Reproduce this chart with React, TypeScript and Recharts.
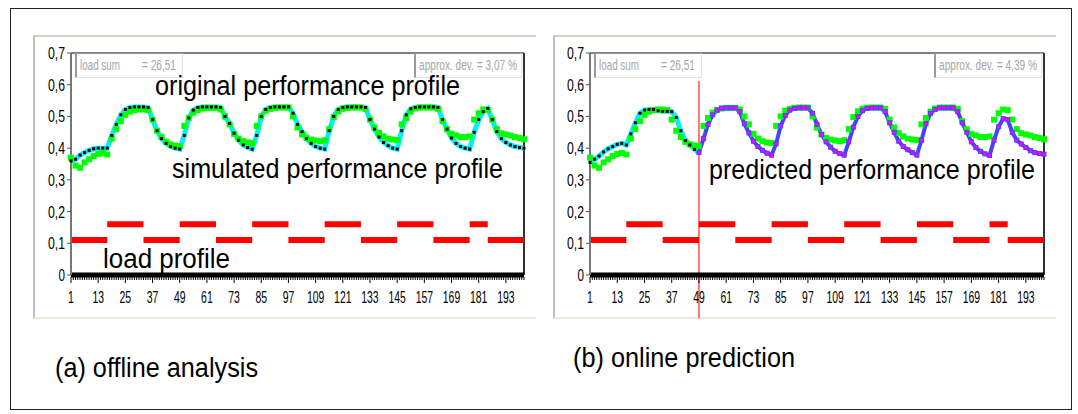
import { Line, LineChart, ReferenceLine, XAxis, YAxis } from "recharts";

// sample positions (every second measurement step)
const steps = Array.from({ length: 101 }, (_, i) => 1 + i * 2);

const xTickLabels = [1, 13, 25, 37, 49, 61, 73, 85, 97, 109, 121, 133, 145, 157, 169, 181, 193];
const yTickValues = [0, 0.1, 0.2, 0.3, 0.4, 0.5, 0.6, 0.7];

// original (measured) performance profile, green squares
const originalProfile = [
	0.37, 0.345, 0.338, 0.355, 0.365, 0.375, 0.382, 0.385, 0.38, 0.43,
	0.46, 0.485, 0.505, 0.515, 0.52, 0.522, 0.522, 0.52, 0.49, 0.455,
	0.435, 0.42, 0.412, 0.408, 0.406, 0.47, 0.495, 0.512, 0.52, 0.525,
	0.527, 0.527, 0.527, 0.522, 0.5, 0.475, 0.445, 0.43, 0.422, 0.418,
	0.416, 0.47, 0.5, 0.518, 0.524, 0.527, 0.528, 0.528, 0.528, 0.5,
	0.465, 0.443, 0.432, 0.427, 0.424, 0.422, 0.425, 0.46, 0.498, 0.516,
	0.524, 0.527, 0.528, 0.528, 0.528, 0.524, 0.49, 0.465, 0.448, 0.437,
	0.43, 0.427, 0.426, 0.475, 0.495, 0.515, 0.525, 0.528, 0.528, 0.528,
	0.528, 0.524, 0.485, 0.46, 0.445, 0.44, 0.435, 0.435, 0.437, 0.49,
	0.51, 0.522, 0.52, 0.49, 0.46, 0.447, 0.443, 0.44, 0.435, 0.432,
	0.428,
];

// simulated performance profile (offline analysis)
const simulatedProfile = [
	0.36, 0.365, 0.378, 0.386, 0.393, 0.398, 0.4, 0.4, 0.4, 0.44,
	0.475, 0.505, 0.522, 0.528, 0.53, 0.53, 0.53, 0.528, 0.49, 0.455,
	0.43, 0.415, 0.405, 0.4, 0.397, 0.44, 0.495, 0.52, 0.528, 0.53,
	0.53, 0.53, 0.53, 0.528, 0.5, 0.478, 0.447, 0.425, 0.41, 0.402,
	0.397, 0.44, 0.5, 0.522, 0.528, 0.53, 0.53, 0.53, 0.53, 0.51,
	0.475, 0.452, 0.43, 0.415, 0.405, 0.4, 0.397, 0.455, 0.5, 0.522,
	0.528, 0.53, 0.53, 0.53, 0.53, 0.528, 0.49, 0.46, 0.435, 0.418,
	0.408, 0.4, 0.397, 0.455, 0.505, 0.524, 0.528, 0.53, 0.53, 0.53,
	0.53, 0.528, 0.49, 0.46, 0.432, 0.415, 0.405, 0.4, 0.397, 0.45,
	0.49, 0.515, 0.525, 0.49, 0.452, 0.43, 0.418, 0.41, 0.405, 0.402,
	0.4,
];

// online prediction: simulated up to step 49, predicted from step 49
const onlineSimulated = [
	0.355, 0.365, 0.375, 0.388, 0.398, 0.405, 0.412, 0.415, 0.41, 0.445,
	0.48, 0.51, 0.52, 0.522, 0.522, 0.518, 0.516, 0.516, 0.515, 0.497,
	0.455, 0.424, 0.41, 0.396, 0.386,
];

const predictedProfile = [
	0.386, 0.43, 0.475, 0.505, 0.52, 0.526, 0.527, 0.527, 0.527, 0.515,
	0.477, 0.448, 0.422, 0.405, 0.393, 0.384, 0.378, 0.414, 0.47, 0.503,
	0.52, 0.525, 0.527, 0.527, 0.527, 0.51, 0.475, 0.443, 0.42, 0.403,
	0.39, 0.383, 0.378, 0.42, 0.466, 0.5, 0.518, 0.525, 0.527, 0.527,
	0.527, 0.515, 0.48, 0.45, 0.422, 0.405, 0.395, 0.386, 0.378, 0.424,
	0.477, 0.51, 0.522, 0.527, 0.527, 0.527, 0.527, 0.515, 0.48, 0.45,
	0.42, 0.402, 0.39, 0.382, 0.377, 0.425, 0.468, 0.493, 0.49, 0.45,
	0.425, 0.413, 0.402, 0.392, 0.386, 0.383, 0.381,
];
const PREDICTION_START = 49;

// load profile segments
const loadFrom = [1, 17, 33, 49, 65, 81, 97, 113, 129, 145, 161, 177, 185];
const loadTo = [17, 33, 49, 65, 81, 97, 113, 129, 145, 161, 177, 185, 201];
const loadLevel = [0.11, 0.16, 0.11, 0.16, 0.11, 0.16, 0.11, 0.16, 0.11, 0.16, 0.11, 0.16, 0.11];

function loadAt(step: number, high: boolean): number | null {
	for (let i = 0; i < loadFrom.length; i++) {
		const isHigh = loadLevel[i] > 0.13;
		if (isHigh === high && step >= loadFrom[i] && step <= loadTo[i]) {
			return loadLevel[i];
		}
	}
	return null;
}

const chartRows = steps.map((step, i) => ({
	step,
	original: originalProfile[i],
	simulated: simulatedProfile[i],
	onlineSim: i < onlineSimulated.length ? onlineSimulated[i] : null,
	predicted: step >= PREDICTION_START ? predictedProfile[i - (PREDICTION_START - 1) / 2] : null,
	loadLow: loadAt(step, false),
	loadHigh: loadAt(step, true),
}));

const allTicks = Array.from({ length: 201 }, (_, i) => i + 1);

const FONT = "'Liberation Sans', Arial, sans-serif";

// the original uses a condensed face, so squeeze glyphs to the measured widths
function XTick(props: any) {
	const { x, y, payload } = props;
	const value = payload.value as number;
	const major = xTickLabels.includes(value);
	const label = String(value);
	return (
		<g>
			<line x1={x} x2={x} y1={y + 2} y2={y + (major ? 8 : 5)} stroke="#000" strokeWidth={1} />
			{major && (
				<text
					x={x - (label.length * 5.8) / 2}
					y={y + 28}
					textLength={label.length * 5.8}
					lengthAdjust="spacingAndGlyphs"
					fontSize={16.5}
					fontFamily={FONT}
					fill="#000"
				>
					{label}
				</text>
			)}
		</g>
	);
}

function YTick(props: any) {
	const { x, y, payload } = props;
	const label = String(Math.round(payload.value * 10) / 10).replace(".", ",");
	const width = label.length === 1 ? 6.5 : 17;
	return (
		<text
			x={x - width}
			y={y + 6}
			textLength={width}
			lengthAdjust="spacingAndGlyphs"
			fontSize={16.5}
			fontFamily={FONT}
			fill="#000"
		>
			{label}
		</text>
	);
}

function squareDot(size: number, fill: string, stroke?: string) {
	return (props: any) => {
		const { cx, cy, index } = props;
		if (cx == null || cy == null) {
			return <g key={`d${index}`} />;
		}
		return (
			<rect
				key={`d${index}`}
				x={cx - size / 2}
				y={cy - size / 2}
				width={size}
				height={size}
				fill={fill}
				stroke={stroke ?? "none"}
				strokeWidth={stroke ? 1 : 0}
			/>
		);
	};
}

type InfoText = { text: string; at: number; len: number };

function InfoBox({ left, top, parts }: { left: number; top: number; parts: InfoText[] }) {
	return (
		<div
			style={{
				position: "absolute",
				left,
				top,
				width: 108,
				height: 25,
				borderLeft: "2px solid #9a9a9a",
				borderTop: "1px solid #9a9a9a",
				borderRight: "1px solid #e6e3dc",
				borderBottom: "1px solid #e6e3dc",
				background: "#fff",
				boxSizing: "border-box",
			}}
		>
			<svg width={105} height={23} style={{ display: "block", overflow: "visible" }}>
				{parts.map((p) => (
					<text
						key={p.text}
						x={p.at}
						y={16}
						textLength={p.len}
						lengthAdjust="spacingAndGlyphs"
						fontSize={14}
						fontFamily={FONT}
						fill="#a6a6a6"
					>
						{p.text}
					</text>
				))}
			</svg>
		</div>
	);
}

function PredictionMarker(props: any) {
	const { x1, x2, y1, y2 } = props;
	const top = Math.min(y1, y2);
	const bottom = Math.max(y1, y2);
	return <line x1={x1} x2={x2} y1={top + 28} y2={bottom + 43} stroke="#ff2020" strokeWidth={1.2} />;
}

function ProfileChart({ online }: { online: boolean }) {
	return (
		<LineChart
			width={504}
			height={285}
			data={chartRows}
			margin={{ top: 17, right: 13, left: online ? 7 : 8, bottom: 16 }}
		>
			<XAxis
				type="number"
				dataKey="step"
				domain={[1, 201]}
				ticks={allTicks}
				interval={0}
				tick={<XTick />}
				tickLine={false}
				tickSize={0}
				tickMargin={0}
				height={30}
				axisLine={{ stroke: "#000", strokeWidth: 5 }}
			/>
			<YAxis
				type="number"
				domain={[0, 0.7]}
				ticks={yTickValues}
				width={30}
				tickSize={4}
				tickMargin={2}
				tick={<YTick />}
				tickLine={{ stroke: "#555" }}
				axisLine={{ stroke: "#777", strokeWidth: 2 }}
			/>
			<ReferenceLine y={0.7} stroke="#000" strokeWidth={1} />
			<ReferenceLine x={201} stroke="#333" strokeWidth={2} />
			{online && <ReferenceLine x={PREDICTION_START} shape={<PredictionMarker />} />}
			<Line
				dataKey="loadLow"
				stroke="#ff0000"
				strokeWidth={6}
				dot={false}
				connectNulls={false}
				isAnimationActive={false}
			/>
			<Line
				dataKey="loadHigh"
				stroke="#ff0000"
				strokeWidth={6}
				dot={false}
				connectNulls={false}
				isAnimationActive={false}
			/>
			<Line
				dataKey="original"
				stroke="transparent"
				strokeWidth={0}
				dot={squareDot(6, "#00ff00")}
				isAnimationActive={false}
			/>
			<Line
				dataKey={online ? "onlineSim" : "simulated"}
				stroke="#00f0ff"
				strokeWidth={5}
				dot={squareDot(3, "#000")}
				connectNulls={false}
				isAnimationActive={false}
			/>
			{online && (
				<Line
					dataKey="predicted"
					stroke="#4444ff"
					strokeWidth={4}
					dot={squareDot(4, "#ff00ff", "#4444ff")}
					connectNulls={false}
					isAnimationActive={false}
				/>
			)}
		</LineChart>
	);
}

const bigText = {
	fontFamily: FONT,
	fontSize: 27,
	fill: "#000",
	lengthAdjust: "spacingAndGlyphs",
} as const;

const panelStyle = {
	position: "absolute",
	top: 35,
	width: 503,
	height: 284,
	borderTop: "2px solid #d4d0c8",
	borderLeft: "2px solid #c0c0c0",
	borderBottom: "2px solid #ece9e2",
	boxSizing: "border-box",
} as const;

export default function App() {
	return (
		<div style={{ position: "absolute", left: 0, top: 0, width: 1078, height: 414, background: "#fff" }}>
			<div
				style={{
					position: "absolute",
					left: 10,
					top: 8,
					width: 1060,
					height: 400,
					border: "1px solid #222",
				}}
			/>
			<div style={{ ...panelStyle, left: 33 }} />
			<div style={{ ...panelStyle, left: 553 }} />
			<div style={{ position: "absolute", left: 33, top: 36 }}>
				<ProfileChart online={false} />
			</div>
			<div style={{ position: "absolute", left: 553, top: 36 }}>
				<ProfileChart online={true} />
			</div>
			<InfoBox
				left={75}
				top={53}
				parts={[
					{ text: "load sum", at: 3, len: 40 },
					{ text: "= 26,51", at: 65, len: 34 },
				]}
			/>
			<InfoBox left={414} top={53} parts={[{ text: "approx. dev. = 3,07 %", at: 3, len: 98 }]} />
			<InfoBox
				left={594}
				top={53}
				parts={[
					{ text: "load sum", at: 3, len: 40 },
					{ text: "= 26,51", at: 65, len: 34 },
				]}
			/>
			<InfoBox left={934} top={53} parts={[{ text: "approx. dev. = 4,39 %", at: 3, len: 98 }]} />
			<svg
				width={1078}
				height={414}
				style={{ position: "absolute", left: 0, top: 0, pointerEvents: "none" }}
			>
				<text x={155} y={95} textLength={305} {...bigText}>
					original performance profile
				</text>
				<text x={172} y={178} textLength={331} {...bigText}>
					simulated performance profile
				</text>
				<text x={103} y={268} textLength={127} {...bigText}>
					load profile
				</text>
				<text x={709} y={179} textLength={326} {...bigText}>
					predicted performance profile
				</text>
				<text x={55} y={377} textLength={203} {...bigText}>
					(a) offline analysis
				</text>
				<text x={573} y={367} textLength={222} {...bigText}>
					(b) online prediction
				</text>
			</svg>
		</div>
	);
}
